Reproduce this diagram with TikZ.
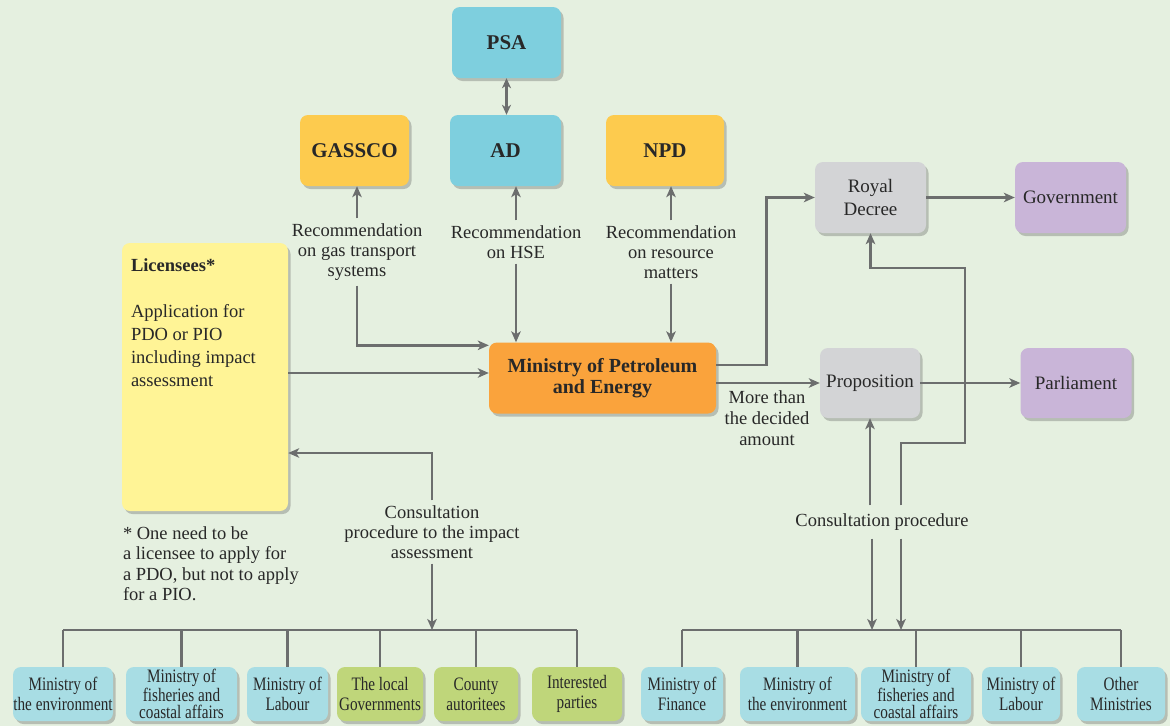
\documentclass[tikz,border=0pt]{standalone}
\usepackage{fontspec}
\setmainfont{Liberation Serif}
\newfontfamily\condfont[FakeStretch=0.8]{Liberation Serif}
\usetikzlibrary{arrows.meta,shadows,calc}
\definecolor{bg}{RGB}{229,240,224}
\definecolor{cyanbox}{RGB}{126,207,222}
\definecolor{cyanlight}{RGB}{168,221,228}
\definecolor{goldbox}{RGB}{253,203,78}
\definecolor{lyellow}{RGB}{255,244,150}
\definecolor{orangebox}{RGB}{250,163,60}
\definecolor{graybox}{RGB}{211,212,214}
\definecolor{purplebox}{RGB}{201,181,216}
\definecolor{greenbox}{RGB}{191,214,122}
\definecolor{linecol}{RGB}{108,110,110}
\definecolor{txt}{RGB}{40,40,40}
\begin{document}
\begin{tikzpicture}[x=1pt,y=-1pt,
  box/.style={rounded corners=8pt, inner sep=0pt, align=center, text=txt,
    drop shadow={shadow xshift=2.5pt, shadow yshift=-3pt, opacity=0.3, fill=black!70}},
  wh/.style 2 args={minimum width=#1, minimum height=#2},
  title/.style={font=\fontsize{21}{24}\selectfont\bfseries},
  plain/.style={font=\fontsize{19}{23}\selectfont},
  bot/.style={font=\condfont\fontsize{19}{20}\selectfont},
  bot3/.style={font=\condfont\fontsize{19}{17}\selectfont},
  lbl/.style={font=\fontsize{18.5}{20}\selectfont, text=txt, align=center, inner sep=5pt},
  line/.style={draw=linecol, line width=2.6pt},
  arr/.style={line, -{Stealth[length=11pt,width=9.5pt,inset=3pt]}},
  darr/.style={line, {Stealth[length=10pt,width=9pt,inset=3pt]}-{Stealth[length=10pt,width=9pt,inset=3pt]}}
]
\fill[bg] (0,0) rectangle (1170,726);
\useasboundingbox (0,0) rectangle (1170,726);

% top boxes
\node[box, title, fill=cyanbox, wh={109pt}{71pt}] (psa) at (506.5,42.5) {PSA};
\node[box, title, fill=cyanbox, wh={111pt}{71pt}] (ad) at (505.5,150.5) {AD};
\node[box, title, fill=goldbox, wh={109pt}{71pt}] (gassco) at (354.5,150.5) {GASSCO};
\node[box, title, fill=goldbox, wh={118pt}{71pt}] (npd) at (665,150.5) {NPD};

% licensees
\node[box, fill=lyellow, wh={166pt}{268pt}] (lic) at (205,377) {};
\node[anchor=north west, align=left, inner sep=0pt, text=txt,
  font=\fontsize{18.5}{23}\selectfont] (lictext) at ($(lic.north west)+(9,16)$)
  {\textbf{Licensees*}\\[23pt]Application for\\PDO or PIO\\including impact\\assessment};
\node[anchor=north west, align=left, inner sep=0pt, text=txt,
  font=\fontsize{18.5}{20.5}\selectfont] (foot) at ($(lic.south west)+(1,15)$)
  {* One need to be\\a licensee to apply for\\a PDO, but not to apply\\for a PIO.};

% ministry
\node[box, fill=orangebox, wh={227pt}{71pt}, font=\fontsize{20}{21}\selectfont\bfseries] (mpe) at (602.5,378)
  {Ministry of Petroleum\\and Energy};

% right side
\node[box, plain, fill=graybox, wh={111pt}{71pt}] (rd) at (870.5,197.5) {Royal\\Decree};
\node[box, plain, fill=purplebox, wh={111pt}{71pt}] (gov) at (1070.5,197.5) {Government};
\node[box, plain, fill=graybox, wh={100pt}{70pt}] (prop) at (870,383) {\raisebox{-2pt}{Proposition}};
\node[box, plain, fill=purplebox, wh={111pt}{70pt}] (parl) at (1076,383) {Parliament};

% labels
\node[lbl] (rec1) at (357,252) {Recommendation\\on gas transport\\systems};
\node[lbl] (rec2) at (516,242) {Recommendation\\on HSE};
\node[lbl] (rec3) at (671,252) {Recommendation\\on resource\\matters};
\node[lbl, font=\fontsize{18.5}{21}\selectfont, inner sep=0pt] (more) at (767,418) {More than\\the decided\\amount};
\node[lbl] (cons1) at (432,532) {Consultation\\procedure to the impact\\assessment};
\node[lbl, inner sep=8pt] (cons2) at (882,522) {Consultation procedure};

% bottom boxes left
\node[box, bot, fill=cyanlight, wh={100pt}{54pt}] (l1) at (63,694) {Ministry of\\the environment};
\node[box, bot3, fill=cyanlight, wh={111pt}{54pt}] (l2) at (181.5,694) {Ministry of\\fisheries and\\coastal affairs};
\node[box, bot, fill=cyanlight, wh={81pt}{54pt}] (l3) at (287.5,694) {Ministry of\\Labour};
\node[box, bot, fill=greenbox, wh={86pt}{54pt}] (l4) at (380,694) {The local\\Governments};
\node[box, bot, fill=greenbox, wh={84pt}{54pt}] (l5) at (476,694) {County\\autoritees};
\node[box, bot, fill=greenbox, wh={90pt}{54pt}] (l6) at (577,694) {Interested\\parties};
% bottom boxes right
\node[box, bot, fill=cyanlight, wh={82pt}{54pt}] (r1) at (682,694) {Ministry of\\Finance};
\node[box, bot, fill=cyanlight, wh={115pt}{54pt}] (r2) at (797.5,694) {Ministry of\\the environment};
\node[box, bot3, fill=cyanlight, wh={110pt}{54pt}] (r3) at (916,694) {Ministry of\\fisheries and\\coastal affairs};
\node[box, bot, fill=cyanlight, wh={78pt}{54pt}] (r4) at (1021,694) {Ministry of\\Labour};
\node[box, bot, fill=cyanlight, wh={88pt}{54pt}] (r5) at (1121,694) {Other\\Ministries};

% buses
\coordinate (busL) at (0,630);
\draw[line] (l1.north |- busL) -- (l6.north |- busL);
\foreach \n in {l1,l2,l3,l4,l5,l6} \draw[line] (\n.north) -- (\n.north |- busL);
\draw[line] (r1.north |- busL) -- (r5.north |- busL);
\foreach \n in {r1,r2,r3,r4,r5} \draw[line] (\n.north) -- (\n.north |- busL);

% connectors top
\draw[darr] (psa.south) -- (psa.south |- ad.north);
\draw[arr] (rec1.north) -- (rec1.north |- gassco.south);
\draw[arr] (rec2.north) -- (rec2.north |- ad.south);
\draw[arr] (rec3.north) -- (rec3.north |- npd.south);
\draw[arr] (rec1.south) |- ([yshift=-3pt]mpe.north west);
\draw[arr] (rec2.south) -- (rec2.south |- mpe.north);
\draw[arr] (rec3.south) -- (rec3.south |- mpe.north);
\draw[arr] (lic.east |- 0,373) -- (mpe.west |- 0,373);

% right connectors
\draw[arr] ([yshift=13pt]mpe.east) -- ++(50,0) |- (rd.west);
\draw[arr] (mpe.east |- prop.west) -- (prop.west);
\draw[arr] (rd.east) -- (gov.west);
\draw[arr] (prop.east) -- (parl.west);
\draw[arr] (cons2.north -| prop.south) -- (prop.south);
\draw[arr] ([xshift=19pt]cons2.north) |- (965,443) -- (965,268) -| (rd.south);
\draw[arr] ([xshift=-10pt]cons2.south) -- ([xshift=-10pt]cons2.south |- busL);
\draw[arr] ([xshift=19pt]cons2.south) -- ([xshift=19pt]cons2.south |- busL);

% left consultation
\draw[arr] (cons1.north) |- (lic.east |- 0,453);
\draw[arr] (cons1.south) -- (cons1.south |- busL);
\end{tikzpicture}
\end{document}
